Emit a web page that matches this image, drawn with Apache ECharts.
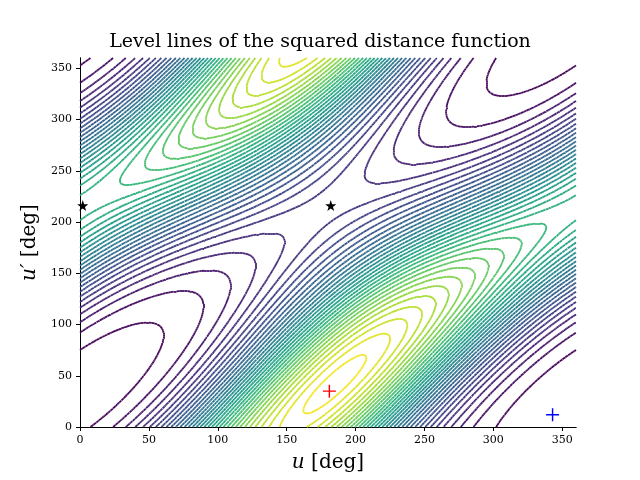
<!DOCTYPE html>
<html><head><meta charset="utf-8">
<script src="https://cdn.jsdelivr.net/npm/echarts@6/dist/echarts.min.js"></script>
<style>html,body{margin:0;background:#fff}#c{width:640px;height:480px}</style>
</head><body><div id="c"></div>
<script>
// tick labels and marked points
var xTicks = [0, 50, 100, 150, 200, 250, 300, 350];
var yTicks = [0, 50, 100, 150, 200, 250, 300, 350];
var saddles = [[2, 216], [182, 216]];
var maxPoint = [[181, 35]];
var minPoint = [[343, 12]];
var levelCount = 34;

// model of the field whose level lines are drawn
var A = 1.0, B = 0.4, C = 0.12;
function base(u, v) {
  var r = Math.PI / 180;
  return A * Math.cos((u - v - 145) * r) - B * Math.cos(u * r) - C * Math.cos((v - 25) * r);
}

var step = 2, n = 360 / step;
var grid = [], fmin = Infinity, fmax = -Infinity;
for (var i = 0; i <= n; i++) {
  grid[i] = [];
  for (var j = 0; j <= n; j++) {
    var f = base(i * step, j * step) + 1.6;
    f = f * f;
    grid[i][j] = f;
    if (f < fmin) fmin = f;
    if (f > fmax) fmax = f;
  }
}

var stops = ['#440154', '#482878', '#3e4989', '#31688e', '#26828e', '#1f9e89', '#35b779', '#6ece58', '#b5de2b', '#fde725'];
function viridis(t) {
  var p = t * (stops.length - 1), k = Math.min(Math.floor(p), stops.length - 2), a = p - k;
  function h(s, o) { return parseInt(s.substr(o, 2), 16); }
  var c1 = stops[k], c2 = stops[k + 1], out = [];
  for (var o = 1; o < 7; o += 2) out.push(Math.round(h(c1, o) * (1 - a) + h(c2, o) * a));
  return 'rgb(' + out.join(',') + ')';
}

function contour(level) {
  var segs = [];
  for (var i = 0; i < n; i++) for (var j = 0; j < n; j++) {
    var c = [[i, j], [i + 1, j], [i + 1, j + 1], [i, j + 1]];
    var pts = [];
    for (var e = 0; e < 4; e++) {
      var p = c[e], q = c[(e + 1) % 4];
      var a = grid[p[0]][p[1]] - level, b = grid[q[0]][q[1]] - level;
      if ((a < 0) !== (b < 0)) {
        var t = a / (a - b);
        pts.push([(p[0] + (q[0] - p[0]) * t) * step, (p[1] + (q[1] - p[1]) * t) * step]);
      }
    }
    if (pts.length === 2) segs.push({coords: pts});
    else if (pts.length === 4) { segs.push({coords: [pts[0], pts[1]]}); segs.push({coords: [pts[2], pts[3]]}); }
  }
  return segs;
}

var series = [];
for (var L = 0; L < levelCount; L++) {
  var t = (L + 0.5) / levelCount;
  series.push({
    type: 'lines', coordinateSystem: 'cartesian2d', polyline: false, silent: true,
    lineStyle: {color: viridis(t), width: 1.8, opacity: 1},
    data: contour(fmin + (fmax - fmin) * t)
  });
}
var plusPath = 'path://M-1,-0.11L1,-0.11L1,0.11L-1,0.11ZM-0.11,-1L0.11,-1L0.11,1L-0.11,1Z';
series.push({type: 'scatter', data: saddles, symbol: 'path://M0,-10L2.35,-3.24L9.51,-3.09L3.8,1.24L5.88,8.09L0,4L-5.88,8.09L-3.8,1.24L-9.51,-3.09L-2.35,-3.24Z',
  symbolSize: 11, itemStyle: {color: '#000', opacity: 1}, z: 5});
series.push({type: 'scatter', data: maxPoint, symbol: plusPath, symbolSize: 13, itemStyle: {color: '#ff0000', opacity: 1}, z: 5});
series.push({type: 'scatter', data: minPoint, symbol: plusPath, symbolSize: 13, itemStyle: {color: '#0000ff', opacity: 1}, z: 5});

var serif = 'DejaVu Serif';
function axis(name, ticks, gap, pos) {
  return {
    type: 'value', min: 0, max: 360, interval: 50, position: pos,
    name: name, nameLocation: 'middle', nameGap: gap,
    nameTextStyle: {fontFamily: serif, fontSize: 20, color: '#000', rich: {i: {fontFamily: serif, fontStyle: 'italic', fontSize: 20}}},
    axisLine: {show: true, lineStyle: {color: '#000', width: 1}},
    axisTick: {show: true, inside: false, length: 4, lineStyle: {color: '#000'}},
    axisLabel: {fontFamily: serif, fontSize: 11, color: '#000', showMaxLabel: false,
      formatter: function (v) { return ticks.indexOf(v) >= 0 ? String(v) : ''; }},
    splitLine: {show: false}
  };
}
var xa = axis('{i|u} [deg]', xTicks, 26, 'bottom');
var ya = axis('{i|u′} [deg]', yTicks, 36, 'left');
var xt = {type: 'value', min: 0, max: 360, position: 'top', axisLine: {lineStyle: {color: '#000'}}, axisTick: {show: false}, axisLabel: {show: false}, splitLine: {show: false}};
var yt = {type: 'value', min: 0, max: 360, position: 'right', axisLine: {lineStyle: {color: '#000'}}, axisTick: {show: false}, axisLabel: {show: false}, splitLine: {show: false}};

var chart = echarts.init(document.getElementById('c'));
chart.setOption({
  animation: false,
  title: {text: 'Level lines of the squared distance function', left: 'center', top: 28,
    textStyle: {fontFamily: serif, fontWeight: 'normal', fontSize: 19, color: '#000'}},
  grid: {left: 80, right: 64, top: 58, bottom: 53},
  xAxis: [xa, xt], yAxis: [ya, yt],
  series: series
});
</script></body></html>
